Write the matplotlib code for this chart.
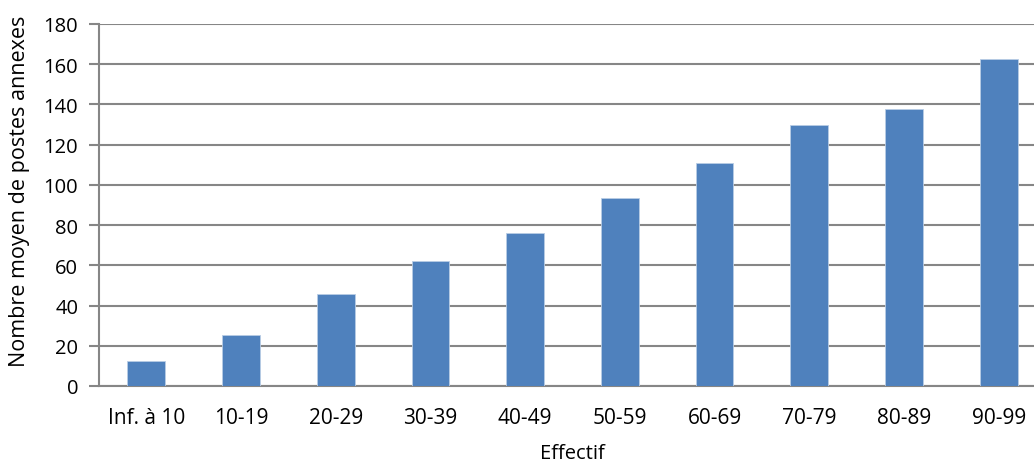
import matplotlib.pyplot as plt
import numpy as np

# Données
categories = ["Inf. à 10", "10-19", "20-29", "30-39", "40-49",
              "50-59", "60-69", "70-79", "80-89", "90-99"]
valeurs = [12.6, 25.6, 45.6, 62.2, 76.0, 93.3, 110.9, 129.8, 137.9, 162.4]

plt.rcParams['font.family'] = ['Open Sans', 'DejaVu Sans']

fig = plt.figure(figsize=(10.34, 4.64), dpi=100)
# l'axe dépasse à droite, comme dans l'original
ax = fig.add_axes([99 / 1034, 1 - 387 / 464, (1046 - 99) / 1034, (387 - 25) / 464])

x = np.arange(len(categories))
ax.bar(x, valeurs, width=0.4, color="#4F81BD", edgecolor="#B9CDE5", linewidth=0.6, zorder=3)

ax.set_xlim(-0.5, len(categories) - 0.5)
ax.set_ylim(0, 180)
ax.set_yticks(np.arange(0, 181, 20))
ax.set_xticks(x)
ax.set_xticklabels(categories)

ax.grid(axis="y", color="#868686", linewidth=1.5, zorder=0)
for s in ["top", "right"]:
    ax.spines[s].set_visible(False)
for s in ["left", "bottom"]:
    ax.spines[s].set_color("#868686")
    ax.spines[s].set_linewidth(1.5)

ax.tick_params(axis="y", length=7, width=1.5, color="#868686", labelsize=14.5, pad=8)
ax.tick_params(axis="x", length=0, labelsize=15, pad=15)

ax.set_ylabel("Nombre moyen de postes annexes", fontsize=15.5)
ax.yaxis.set_label_coords(-0.073, 0.541)
ax.set_xlabel("Effectif", fontsize=14.5, labelpad=11)

fig.savefig("out.png", dpi=100)
